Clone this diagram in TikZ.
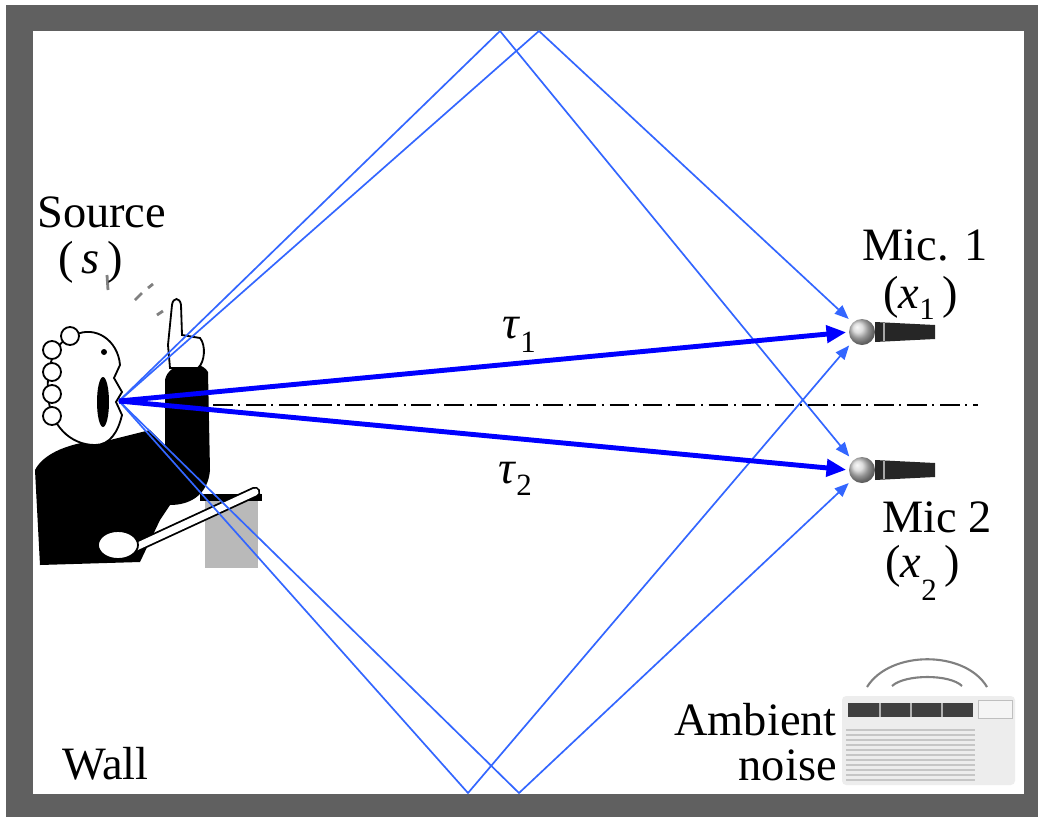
\documentclass[tikz,border=0pt]{standalone}
\usepackage{fontspec}
\setmainfont{Liberation Serif}
\usetikzlibrary{arrows.meta}
\definecolor{wallgray}{RGB}{96,96,96}
\definecolor{rayblue}{RGB}{51,102,255}
\newcommand{\lowidx}[2]{\raisebox{-#1}{\fontsize{22}{22}\selectfont #2}}

\begin{document}
\begin{tikzpicture}[x=0.025cm, y=-0.025cm,
    ray/.style={rayblue, line width=1.2pt, -{Triangle[length=10pt,width=8pt]}},
    direct/.style={blue, line width=3.5pt, -{Triangle[length=14pt,width=12pt]}},
    axisline/.style={black, line width=1pt, dash pattern=on 14pt off 4pt on 1.5pt off 4pt},
    lbl/.style={font=\fontsize{33}{36}\selectfont, inner sep=0pt, anchor=base west},
    mic/.style={circle, minimum size=0.65cm, inner sep=0pt, outer sep=0pt, shade, ball color=gray!35},
    ink/.style={fill=white, draw=black, line width=1.3pt}]
    \useasboundingbox (0,0) rectangle (1038,817);

    % Paredes de la sala
    \fill[white] (0,0) rectangle (1038,817);
    \fill[wallgray] (6,5) rectangle (1038,817);
    \fill[white] (33,31) rectangle (1024,794);

    % Orador (silueta simplificada)
    \fill[gray!55] (205,500) rectangle (258,568);
    \fill[black] (200,494) rectangle (262,501);
    \fill[black] (35,470) .. controls (45,450) and (80,440) .. (110,440) -- (150,430)
      -- (165,445) -- (165,380) .. controls (168,362) and (200,358) .. (208,372)
      -- (210,470) .. controls (208,495) and (190,505) .. (170,505) -- (160,520)
      -- (140,562) -- (40,565) -- cycle;
    \filldraw[ink] (75,335) .. controls (95,325) and (118,340) .. (120,365) -- (114,378)
      -- (122,392) -- (116,402) -- (122,415) .. controls (118,432) and (110,445) .. (95,445)
      .. controls (70,445) and (50,425) .. (48,395) .. controls (46,365) and (55,340) .. (75,335) -- cycle;
    \foreach \y in {350,372,394,416} \filldraw[ink] (52,\y) circle[radius=9];
    \filldraw[ink] (70,336) circle[radius=9];
    \fill[black] (103,402) ellipse[x radius=6, y radius=25];
    \fill[black] (104,352) circle[radius=3];
    \filldraw[ink] (168,345) -- (172,305) .. controls (173,297) and (180,297) .. (181,305)
      -- (182,335) -- (200,338) .. controls (206,345) and (205,362) .. (198,368) -- (170,368) -- cycle;
    \draw[black, line width=1.3pt, double=white, double distance=5pt, line cap=round] (125,552) -- (255,492);
    \filldraw[ink] (118,545) ellipse[x radius=20, y radius=14];
    \draw[gray, line width=2pt] (107,275) -- (108,290) (135,300) -- (142,293)
      (148,288) -- (153,284) (157,315) -- (163,311);

    % Aire acondicionado
    \draw[gray, line width=1.5pt] (867,687) .. controls (890,650) and (965,650) .. (987,687);
    \draw[gray, line width=1.5pt] (892,686) .. controls (905,674) and (950,674) .. (962,686);
    \fill[white] (836,688) rectangle (1022,790);
    \fill[gray!14, rounded corners=3pt] (842,696) rectangle (1015,785);
    \fill[black!75] (848,703) rectangle (973,717);
    \foreach \x in {880,911,942} \draw[gray!60, line width=1pt] (\x,703) -- (\x,717);
    \filldraw[fill=gray!8, draw=gray!50] (978,700) rectangle (1012,718);
    \foreach \y in {730,735,...,780} \draw[gray!45, line width=0.8pt] (846,\y) -- (975,\y);

    % Microfonos
    \foreach \m/\y in {mic1/332,mic2/470} {
      \fill[black!85] (875,\y) ++(0,-10) -- ++(60,3) -- ++(0,14) -- ++(-60,3) -- cycle;
      \draw[gray!70, line width=1pt] (884,\y) ++(0,-9) -- ++(0,18);
      \node[mic] (\m) at (862,\y) {};
    }

    % Puntos de reflexion
    \coordinate (src) at (119,401);
    \coordinate (topA) at (500,31);
    \coordinate (topB) at (539,31);
    \coordinate (botA) at (468,793);
    \coordinate (botB) at (519,793);
    \coordinate (axL) at (213,405);
    \coordinate (axR) at (978,405);

    % Caminos reflejados
    \draw[ray, shorten >=4pt] (src) -- (topA) -- (mic2.135);
    \draw[ray, shorten >=4pt] (src) -- (topB) -- (mic1.135);
    \draw[ray, shorten >=4pt] (src) -- (botA) -- (mic1.225);
    \draw[ray, shorten >=4pt] (src) -- (botB) -- (mic2.225);

    % Caminos directos y eje
    \draw[direct, shorten >=2pt] (src) -- (mic1.west);
    \draw[direct, shorten >=2pt] (src) -- (mic2.west);
    \draw[axisline] (axL) -- (axR);

    % Etiquetas
    \node[lbl] (srcname) at (37,227) {Source};
    \node[lbl] (srcvar) at (58,273) {(\,\textit{s}\,)};
    \node[lbl] (tau1) at (502,338) {\textit{τ}\lowidx{10pt}{1}};
    \node[lbl] (tau2) at (498,483) {\textit{τ}\lowidx{9pt}{2}};
    \node[lbl] (m1name) at (862,260) {Mic. 1};
    \node[lbl] (m1var) at (883,308) {(\textit{x}\lowidx{8.5pt}{1}\,)};
    \node[lbl] (m2name) at (882,532) {Mic 2};
    \node[lbl] (m2var) at (885,577) {(\textit{x}\lowidx{17pt}{2}\,)};
    \node[lbl] (wall) at (62,779) {Wall};
    \node[lbl, anchor=base east] (amb) at (837,735) {Ambient};
    \node[lbl, anchor=base east] (noise) at (837,780) {noise};
\end{tikzpicture}
\end{document}
